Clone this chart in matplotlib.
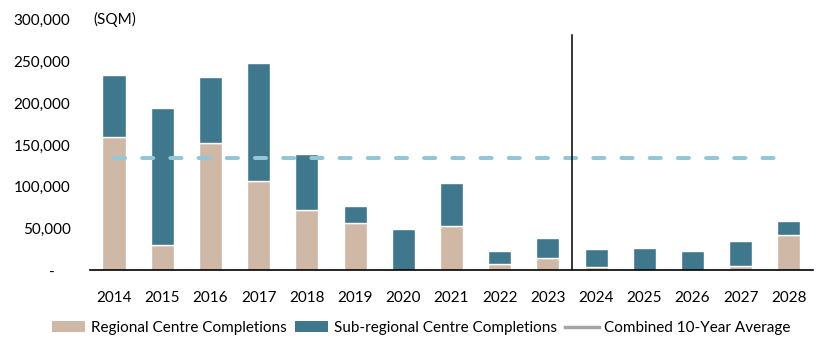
import matplotlib.pyplot as plt
import numpy as np
from matplotlib.lines import Line2D
from matplotlib.patches import Patch

years = ["2014", "2015", "2016", "2017", "2018", "2019", "2020", "2021",
         "2022", "2023", "2024", "2025", "2026", "2027", "2028"]
regional = [160000, 30000, 152000, 107000, 72000, 57000, 0, 53000,
            7000, 14000, 4000, 0, 0, 5500, 42000]
sub_regional = [74000, 164000, 80000, 141000, 67000, 20000, 49000, 52000,
                16000, 25000, 21000, 27000, 23500, 30000, 17000]
ten_year_avg = 135000
yticks = [0, 50000, 100000, 150000, 200000, 250000, 300000]

plt.rcParams["font.family"] = ["Lato", "DejaVu Sans"]
fs = 11

fig = plt.figure(figsize=(8.33, 3.55), dpi=100)
ax = fig.add_axes([0.108, 0.239, 0.868, 0.705])

x = np.arange(len(years))
beige = "#CFB8A6"
teal = "#3F788C"
ax.bar(x, regional, width=0.48, color=beige, edgecolor="white", linewidth=1, zorder=2)
ax.bar(x, sub_regional, width=0.48, bottom=regional, color=teal,
       edgecolor="white", linewidth=1, zorder=2)

# 10-year average, dashed across the chart
ax.plot([0, 14], [ten_year_avg, ten_year_avg], color="#95C6D5", lw=2.9,
        linestyle=(0, (2.75, 4.25)), dash_capstyle="round", zorder=3)

# actual vs forecast divider
ax.plot([9.5, 9.5], [0, 282000], color="black", lw=1.1, zorder=4)

ax.set_xlim(-0.5, 14.5)
ax.set_ylim(0, 300000)
ax.set_xticks(x)
ax.set_xticklabels(years)
ax.set_yticks(yticks)
ax.set_yticklabels(["-    "] + [f"{v:,}" for v in yticks[1:]])
ax.tick_params(axis="both", length=0, labelsize=fs)
ax.tick_params(axis="x", pad=15)
ax.tick_params(axis="y", pad=14)
for side in ["top", "right", "left"]:
    ax.spines[side].set_visible(False)
ax.spines["bottom"].set_linewidth(1.2)
ax.spines["bottom"].set_zorder(5)

ax.text(0.005, 1.0, "(SQM)", transform=ax.transAxes, ha="left", va="center",
        fontsize=fs)

handles = [
    Patch(facecolor=beige, edgecolor="none", label="Regional Centre Completions"),
    Patch(facecolor=teal, edgecolor="none", label="Sub-regional Centre Completions"),
    Line2D([], [], color="#A5A5A5", lw=2.5, label="Combined 10-Year Average"),
]
fig.legend(handles=handles, loc="center", ncol=3, frameon=False,
           bbox_to_anchor=(421 / 833, 1 - 328 / 355), fontsize=fs,
           handlelength=2.2, handletextpad=0.35, columnspacing=0.55)

fig.savefig("out.png", dpi=100)
